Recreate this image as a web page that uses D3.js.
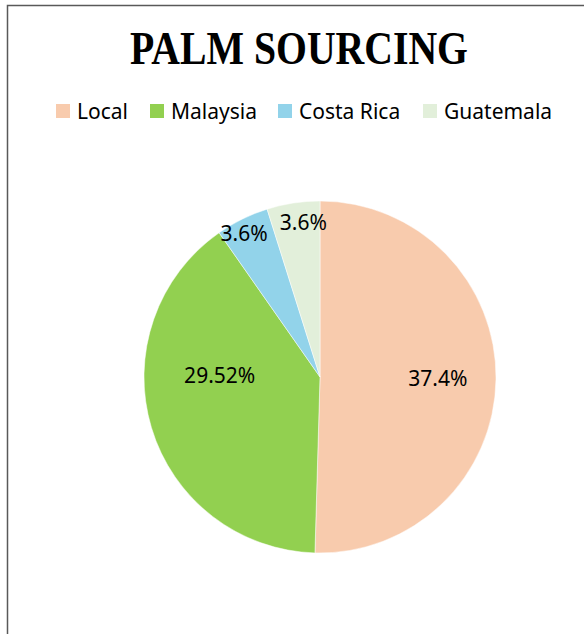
<!DOCTYPE html>
<html>
<head>
<meta charset="utf-8">
<script src="https://cdn.jsdelivr.net/npm/d3@7"></script>
<style>
  html, body { margin: 0; padding: 0; background: #fff; }
  svg { display: block; }
</style>
</head>
<body>
<svg id="pie" width="584" height="634"></svg>
<script>
var categories = ["Local", "Malaysia", "Costa Rica", "Guatemala"];
var values = [37.4, 29.52, 3.6, 3.6];
var labels = ["37.4%", "29.52%", "3.6%", "3.6%"];
var colors = ["#F8CBAD", "#92D050", "#92D3EA", "#E2EFDA"];

var svg = d3.select("#pie"),
    cx = 320, cy = 377, radius = 176;

// chart frame (runs off the right / bottom edge)
svg.append("rect")
    .attr("x", 7.5).attr("y", 5.5)
    .attr("width", 600).attr("height", 660)
    .attr("fill", "#fff")
    .attr("stroke", "#595959")
    .attr("stroke-width", 1.5);

svg.append("text")
    .attr("x", 299).attr("y", 64)
    .attr("text-anchor", "middle")
    .attr("font-family", "Liberation Serif, Times New Roman, serif")
    .attr("font-weight", "bold")
    .attr("font-size", 46)
    .attr("textLength", 338)
    .attr("lengthAdjust", "spacingAndGlyphs")
    .attr("fill", "#000")
    .text("PALM SOURCING");

// legend
var legendX = [56, 150, 278, 423];
var legend = svg.append("g").selectAll("g")
    .data(categories)
    .enter().append("g")
    .attr("transform", function(d, i) { return "translate(" + legendX[i] + ",104)"; });

legend.append("rect")
    .attr("width", 14).attr("height", 14)
    .attr("fill", function(d, i) { return colors[i]; });

legend.append("text")
    .attr("x", 21).attr("y", 15)
    .attr("font-family", "Noto Sans, sans-serif")
    .attr("font-size", 21)
    .attr("fill", "#000")
    .text(function(d) { return d; });

var pie = d3.pie().sort(null).value(function(d) { return d; });
var arcs = pie(values);

var arc = d3.arc().innerRadius(0).outerRadius(radius);

var g = svg.append("g")
    .attr("transform", "translate(" + cx + "," + cy + ")");

g.selectAll("path")
    .data(arcs)
    .enter().append("path")
    .attr("d", arc)
    .attr("fill", function(d, i) { return colors[i]; })
    .attr("stroke", "#fff")
    .attr("stroke-width", 0.5);

// label radius as a fraction of the pie radius, plus a small turn off the mid-angle
var labelFrac = [0.67, 0.57, 0.92, 0.88];
var labelTurn = [0, 0.3, -0.03, 0.045];

g.selectAll(".lbl")
    .data(arcs)
    .enter().append("text")
    .attr("class", "lbl")
    .attr("transform", function(d, i) {
      var a = (d.startAngle + d.endAngle) / 2 + labelTurn[i];
      var r = radius * labelFrac[i];
      return "translate(" + (r * Math.sin(a)) + "," + (-r * Math.cos(a)) + ")";
    })
    .attr("text-anchor", "middle")
    .attr("dy", "0.35em")
    .attr("font-family", "Noto Sans, sans-serif")
    .attr("font-size", 21)
    .attr("fill", "#000")
    .text(function(d, i) { return labels[i]; });
</script>
</body>
</html>
